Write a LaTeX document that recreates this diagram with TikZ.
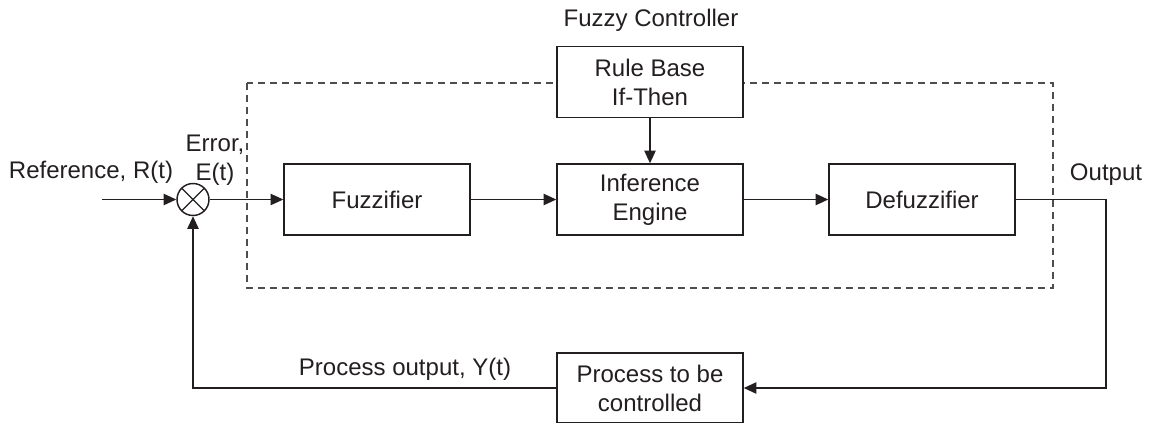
\documentclass[tikz,border=0pt]{standalone}
\usepackage{fontspec}
\setmainfont{Liberation Sans}
\usetikzlibrary{arrows.meta}
\definecolor{ink}{HTML}{231F20}
\begin{document}
\begin{tikzpicture}[x=0.75pt,y=-0.75pt,
  line width=1.1pt, draw=ink, text=ink,
  every node/.style={font=\fontsize{18}{21.75}\selectfont, text=ink},
  blk/.style={draw=ink, fill=white, rectangle, minimum width=139.5pt, minimum height=53.25pt, align=center, inner sep=0pt},
  sumnode/.style={draw=ink, circle, minimum size=24pt, inner sep=0pt,
    path picture={\draw[ink, line width=1pt] (path picture bounding box.south west) -- (path picture bounding box.north east)
      (path picture bounding box.north west) -- (path picture bounding box.south east);}},
  lbl/.style={align=center, inner sep=0pt},
  arr/.style={-{Triangle[length=9.5pt,width=8.5pt]}, draw=ink},
  ctrl/.style={draw=ink!80, dash pattern=on 5.5pt off 3.5pt, line width=1.1pt}
]
\useasboundingbox (0,0) rectangle (1151,422);
% dashed controller boundary
\draw[ctrl] (247,83) rectangle (1053,288);
% blocks
\node[blk] (rule) at (650,82) {Rule Base\\If-Then};
\node[blk] (fuzz) at (377,199.5) {Fuzzifier};
\node[blk] (inf) at (650,199.5) {Inference\\Engine};
\node[blk] (defuzz) at (922,199.5) {Defuzzifier};
\node[blk, minimum height=52.5pt] (proc) at (650,388) {Process to be\\controlled};
\node[sumnode] (sum) at (193,199.5) {};
% coordinates
\coordinate (refin) at (102,199.5);
\coordinate (outc) at (1106,199.5);
\coordinate (outd) at (1106,388);
\coordinate (fbc) at (193,388);
% connectors
\draw[arr] (refin) -- (sum.west);
\draw[arr] (sum.east) -- (fuzz.west);
\draw[arr] (fuzz.east) -- (inf.west);
\draw[arr] (inf.east) -- (defuzz.west);
\draw[arr] (rule.south) -- (inf.north);
\draw[arr] (defuzz.east) -- (outc) -- (outd) -- (proc.east);
\draw[arr] (proc.west) -- (fbc) -- (sum.south);
% labels
\node[lbl] (title) at (651,20) {Fuzzy Controller};
\node[lbl] (reflbl) at (91,172) {Reference, R(t)};
\node[lbl] (errlbl) at (215,160) {Error,\\E(t)};
\node[lbl] (outlbl) at (1106,175) {Output};
\node[lbl] (plbl) at (405,369) {Process output, Y(t)};
\end{tikzpicture}
\end{document}
